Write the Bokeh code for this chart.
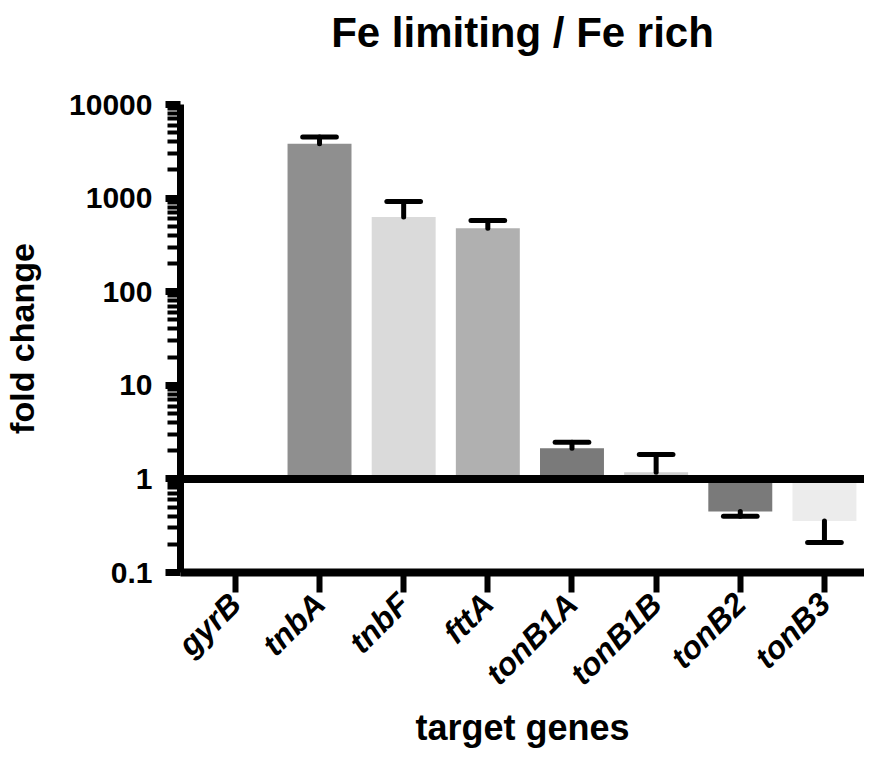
import math
from bokeh.plotting import figure
from bokeh.models import (Range1d, FixedTicker, CustomJSTickFormatter, Span,
                          ColumnDataSource, Title)
from bokeh.embed import file_html
from bokeh.resources import INLINE

# ---- data ----
genes = ["gyrB", "tnbA", "tnbF", "fttA", "tonB1A", "tonB1B", "tonB2", "tonB3"]
fold_change = [1.0, 3800.0, 630.0, 477.0, 2.13, 1.18, 0.448, 0.356]
error_end = [float("nan"), 4500.0, 920.0, 578.0, 2.47, 1.82, 0.399, 0.209]
bar_colors = ["#8f8f8f", "#8f8f8f", "#dadada", "#b0b0b0",
              "#7a7a7a", "#cfcfcf", "#7a7a7a", "#ececec"]
y_major = [0.1, 1, 10, 100, 1000, 10000]

FONT = "Liberation Sans"
xpos = list(range(len(genes)))
cap_half = 0.2

src = ColumnDataSource(dict(
    x=xpos, top=fold_change, err=error_end, color=bar_colors,
    cx0=[x - cap_half for x in xpos], cx1=[x + cap_half for x in xpos],
))

p = figure(width=864, height=752, y_axis_type="log",
           x_range=Range1d(-0.652, 7.476), y_range=Range1d(0.1, 10000),
           output_backend="svg", toolbar_location=None,
           title="Fe limiting / Fe rich",
           min_border_left=178, min_border_right=0, min_border_top=104,
           min_border_bottom=180)

p.vbar(x="x", top="top", bottom=1, width=0.76, fill_color="color",
       line_color=None, source=src)
p.segment(x0="x", y0="top", x1="x", y1="err", line_width=5,
          line_color="black", line_cap="round", source=src)
p.segment(x0="cx0", y0="err", x1="cx1", y1="err", line_width=5,
          line_color="black", line_cap="round", source=src)

p.add_layout(Span(location=1, dimension="width", line_color="black",
                  line_width=8))

# spacer between title and plot area
p.add_layout(Title(text=" ", text_font_size="1px", standoff=46), "above")

# ---- styling ----
p.grid.visible = False
p.outline_line_color = None
p.background_fill_color = "white"
p.border_fill_color = "white"

p.title.text_font = FONT
p.title.text_font_size = "42px"
p.title.text_font_style = "bold"
p.title.align = "center"
p.title.text_color = "black"
p.title.standoff = 0

minor = [m * 10 ** e for e in range(-1, 4) for m in range(2, 10)]
ya = p.yaxis[0]
ya.ticker = FixedTicker(ticks=y_major, minor_ticks=minor)
ya.formatter = CustomJSTickFormatter(code="return tick.toString();")
ya.axis_label = "fold change"
ya.axis_line_width = 7
ya.major_tick_line_width = 7
ya.major_tick_out = 15
ya.major_tick_in = 0
ya.minor_tick_line_width = 4
ya.minor_tick_out = 13
ya.minor_tick_in = 0
ya.major_label_standoff = 13
ya.axis_label_standoff = 25

xa = p.xaxis[0]
xa.ticker = FixedTicker(ticks=xpos)
xa.major_label_overrides = {i: g for i, g in enumerate(genes)}
xa.major_label_orientation = math.pi / 4
xa.major_label_text_font_style = "bold italic"
xa.axis_label = "target genes"
xa.axis_line_width = 8
xa.major_tick_line_width = 6
xa.major_tick_out = 20
xa.major_tick_in = 0
xa.minor_tick_line_color = None
xa.major_label_standoff = 6
xa.axis_label_standoff = 0

for ax in (xa, ya):
    ax.axis_line_color = "black"
    ax.major_tick_line_color = "black"
    ax.major_label_text_font = FONT
    ax.major_label_text_color = "black"
    ax.axis_label_text_font = FONT
    ax.axis_label_text_font_style = "bold"
    ax.axis_label_text_color = "black"
ya.axis_label_text_font_size = "34px"
xa.axis_label_text_font_size = "36px"
ya.major_label_text_font_size = "30px"
xa.major_label_text_font_size = "32px"
ya.major_label_text_font_style = "bold"
ya.minor_tick_line_color = "black"

open("out.html", "w").write(file_html(p, INLINE))
